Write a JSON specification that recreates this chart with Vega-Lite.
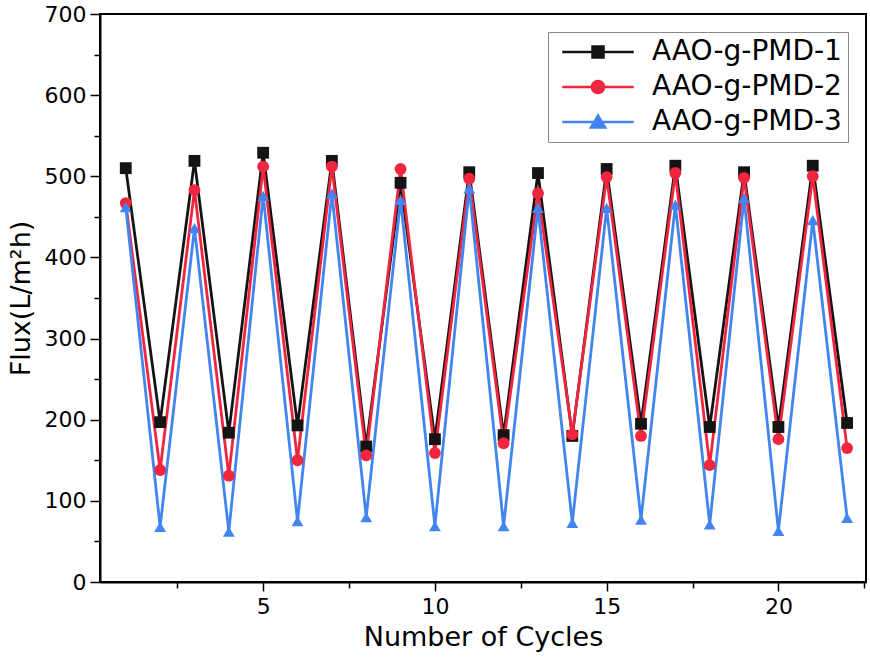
{
  "$schema": "https://vega.github.io/schema/vega-lite/v6.json",
  "width": 766,
  "height": 568,
  "autosize": "none",
  "padding": {"left": 100, "top": 14, "right": 4, "bottom": 79},
  "background": "white",
  "config": {
    "font": "DejaVu Sans",
    "view": {"stroke": "black", "strokeWidth": 2},
    "axis": {
      "grid": false,
      "domainColor": "black",
      "domainWidth": 2,
      "tickColor": "black",
      "tickWidth": 1.5,
      "labelFont": "DejaVu Sans",
      "labelFontSize": 22,
      "labelColor": "black",
      "titleFont": "DejaVu Sans",
      "titleFontSize": 27,
      "titleFontWeight": "normal",
      "titleColor": "black"
    }
  },
  "data": {
    "values": [
      {"cycle": 1, "series": "AAO-g-PMD-1", "flux": 510},
      {"cycle": 2, "series": "AAO-g-PMD-1", "flux": 197},
      {"cycle": 3, "series": "AAO-g-PMD-1", "flux": 519},
      {"cycle": 4, "series": "AAO-g-PMD-1", "flux": 184},
      {"cycle": 5, "series": "AAO-g-PMD-1", "flux": 529},
      {"cycle": 6, "series": "AAO-g-PMD-1", "flux": 193},
      {"cycle": 7, "series": "AAO-g-PMD-1", "flux": 519},
      {"cycle": 8, "series": "AAO-g-PMD-1", "flux": 167},
      {"cycle": 9, "series": "AAO-g-PMD-1", "flux": 492},
      {"cycle": 10, "series": "AAO-g-PMD-1", "flux": 176},
      {"cycle": 11, "series": "AAO-g-PMD-1", "flux": 505},
      {"cycle": 12, "series": "AAO-g-PMD-1", "flux": 181},
      {"cycle": 13, "series": "AAO-g-PMD-1", "flux": 504},
      {"cycle": 14, "series": "AAO-g-PMD-1", "flux": 180},
      {"cycle": 15, "series": "AAO-g-PMD-1", "flux": 509},
      {"cycle": 16, "series": "AAO-g-PMD-1", "flux": 195},
      {"cycle": 17, "series": "AAO-g-PMD-1", "flux": 513},
      {"cycle": 18, "series": "AAO-g-PMD-1", "flux": 191},
      {"cycle": 19, "series": "AAO-g-PMD-1", "flux": 505},
      {"cycle": 20, "series": "AAO-g-PMD-1", "flux": 191},
      {"cycle": 21, "series": "AAO-g-PMD-1", "flux": 513},
      {"cycle": 22, "series": "AAO-g-PMD-1", "flux": 196},
      {"cycle": 1, "series": "AAO-g-PMD-2", "flux": 467},
      {"cycle": 2, "series": "AAO-g-PMD-2", "flux": 138},
      {"cycle": 3, "series": "AAO-g-PMD-2", "flux": 483},
      {"cycle": 4, "series": "AAO-g-PMD-2", "flux": 131},
      {"cycle": 5, "series": "AAO-g-PMD-2", "flux": 512},
      {"cycle": 6, "series": "AAO-g-PMD-2", "flux": 150},
      {"cycle": 7, "series": "AAO-g-PMD-2", "flux": 512},
      {"cycle": 8, "series": "AAO-g-PMD-2", "flux": 156},
      {"cycle": 9, "series": "AAO-g-PMD-2", "flux": 509},
      {"cycle": 10, "series": "AAO-g-PMD-2", "flux": 159},
      {"cycle": 11, "series": "AAO-g-PMD-2", "flux": 497},
      {"cycle": 12, "series": "AAO-g-PMD-2", "flux": 171},
      {"cycle": 13, "series": "AAO-g-PMD-2", "flux": 479},
      {"cycle": 14, "series": "AAO-g-PMD-2", "flux": 182},
      {"cycle": 15, "series": "AAO-g-PMD-2", "flux": 499},
      {"cycle": 16, "series": "AAO-g-PMD-2", "flux": 180},
      {"cycle": 17, "series": "AAO-g-PMD-2", "flux": 504},
      {"cycle": 18, "series": "AAO-g-PMD-2", "flux": 144},
      {"cycle": 19, "series": "AAO-g-PMD-2", "flux": 498},
      {"cycle": 20, "series": "AAO-g-PMD-2", "flux": 176},
      {"cycle": 21, "series": "AAO-g-PMD-2", "flux": 500},
      {"cycle": 22, "series": "AAO-g-PMD-2", "flux": 165},
      {"cycle": 1, "series": "AAO-g-PMD-3", "flux": 462},
      {"cycle": 2, "series": "AAO-g-PMD-3", "flux": 68},
      {"cycle": 3, "series": "AAO-g-PMD-3", "flux": 436},
      {"cycle": 4, "series": "AAO-g-PMD-3", "flux": 62},
      {"cycle": 5, "series": "AAO-g-PMD-3", "flux": 476},
      {"cycle": 6, "series": "AAO-g-PMD-3", "flux": 75},
      {"cycle": 7, "series": "AAO-g-PMD-3", "flux": 479},
      {"cycle": 8, "series": "AAO-g-PMD-3", "flux": 80},
      {"cycle": 9, "series": "AAO-g-PMD-3", "flux": 471},
      {"cycle": 10, "series": "AAO-g-PMD-3", "flux": 69},
      {"cycle": 11, "series": "AAO-g-PMD-3", "flux": 485},
      {"cycle": 12, "series": "AAO-g-PMD-3", "flux": 69},
      {"cycle": 13, "series": "AAO-g-PMD-3", "flux": 461},
      {"cycle": 14, "series": "AAO-g-PMD-3", "flux": 73},
      {"cycle": 15, "series": "AAO-g-PMD-3", "flux": 461},
      {"cycle": 16, "series": "AAO-g-PMD-3", "flux": 77},
      {"cycle": 17, "series": "AAO-g-PMD-3", "flux": 465},
      {"cycle": 18, "series": "AAO-g-PMD-3", "flux": 71},
      {"cycle": 19, "series": "AAO-g-PMD-3", "flux": 473},
      {"cycle": 20, "series": "AAO-g-PMD-3", "flux": 63},
      {"cycle": 21, "series": "AAO-g-PMD-3", "flux": 446},
      {"cycle": 22, "series": "AAO-g-PMD-3", "flux": 79}
    ]
  },
  "encoding": {
    "x": {
      "field": "cycle",
      "type": "quantitative",
      "title": "Number of Cycles",
      "scale": {"domain": [0.25, 22.55], "nice": false, "zero": false},
      "axis": {
        "values": [2.5, 5, 7.5, 10, 12.5, 15, 17.5, 20, 22.5],
        "labelExpr": "datum.value % 5 === 0 ? datum.label : ''",
        "tickSize": {"condition": {"test": "datum.value % 5 === 0", "value": 9}, "value": 6},
        "labelPadding": 5,
        "titlePadding": 7
      }
    },
    "y": {
      "field": "flux",
      "type": "quantitative",
      "title": "Flux(L/m²h)",
      "scale": {"domain": [0, 700], "nice": false},
      "axis": {
        "values": [0, 50, 100, 150, 200, 250, 300, 350, 400, 450, 500, 550, 600, 650, 700],
        "labelExpr": "datum.value % 100 === 0 ? datum.label : ''",
        "tickSize": {"condition": {"test": "datum.value % 100 === 0", "value": 10}, "value": 6},
        "labelPadding": 4,
        "titlePadding": 9
      }
    }
  },
  "resolve": {
    "scale": {"shape": "independent", "fill": "independent", "stroke": "independent"}
  },
  "layer": [
    {
      "mark": {"type": "line", "strokeWidth": 2.8},
      "encoding": {
        "color": {
          "field": "series",
          "type": "nominal",
          "scale": {
            "domain": ["AAO-g-PMD-1", "AAO-g-PMD-2", "AAO-g-PMD-3"],
            "range": ["#141414", "#f0263f", "#4285f0"]
          },
          "legend": null
        }
      }
    },
    {
      "mark": {"type": "point", "filled": true, "opacity": 1, "size": 140},
      "encoding": {
        "color": {
          "field": "series",
          "type": "nominal",
          "scale": {
            "domain": ["AAO-g-PMD-1", "AAO-g-PMD-2", "AAO-g-PMD-3"],
            "range": ["#141414", "#ee2a4a", "#3b7ff2"]
          },
          "legend": null
        },
        "shape": {
          "field": "series",
          "type": "nominal",
          "scale": {
            "domain": ["AAO-g-PMD-1", "AAO-g-PMD-2", "AAO-g-PMD-3"],
            "range": ["square", "circle", "triangle-up"]
          },
          "legend": null
        }
      }
    },
    {
      "transform": [{"filter": "false"}],
      "mark": {"type": "point", "filled": true, "opacity": 1},
      "encoding": {
        "fill": {
          "field": "series",
          "type": "nominal",
          "scale": {
            "domain": ["AAO-g-PMD-1", "AAO-g-PMD-2", "AAO-g-PMD-3"],
            "range": ["#141414", "#ee2a4a", "#3b7ff2"]
          },
          "legend": {"title": null}
        },
        "stroke": {
          "field": "series",
          "type": "nominal",
          "scale": {
            "domain": ["AAO-g-PMD-1", "AAO-g-PMD-2", "AAO-g-PMD-3"],
            "range": ["#141414", "#f0263f", "#4285f0"]
          },
          "legend": {"title": null}
        },
        "shape": {
          "field": "series",
          "type": "nominal",
          "scale": {
            "domain": ["AAO-g-PMD-1", "AAO-g-PMD-2", "AAO-g-PMD-3"],
            "range": [
              "M-6.5,0H6.5M-1,-1H1V1H-1Z",
              "M-6.5,0H6.5M-1.1,0A1.1,1.1 0 1,0 1.1,0A1.1,1.1 0 1,0 -1.1,0Z",
              "M-6.5,0H6.5M0,-1.2L1.3,1H-1.3Z"
            ]
          },
          "legend": {
            "title": null,
            "orient": "top-right",
            "offset": 18,
            "fillColor": "white",
            "strokeColor": "#888888",
            "padding": 6,
            "symbolSize": 121,
            "symbolStrokeWidth": 2.5,
            "symbolOpacity": 1,
            "symbolOffset": 30,
            "labelOffset": 40,
            "labelFont": "DejaVu Sans",
            "labelFontSize": 28,
            "labelColor": "black",
            "labelLimit": 400,
            "rowPadding": 7
          }
        }
      }
    }
  ]
}
